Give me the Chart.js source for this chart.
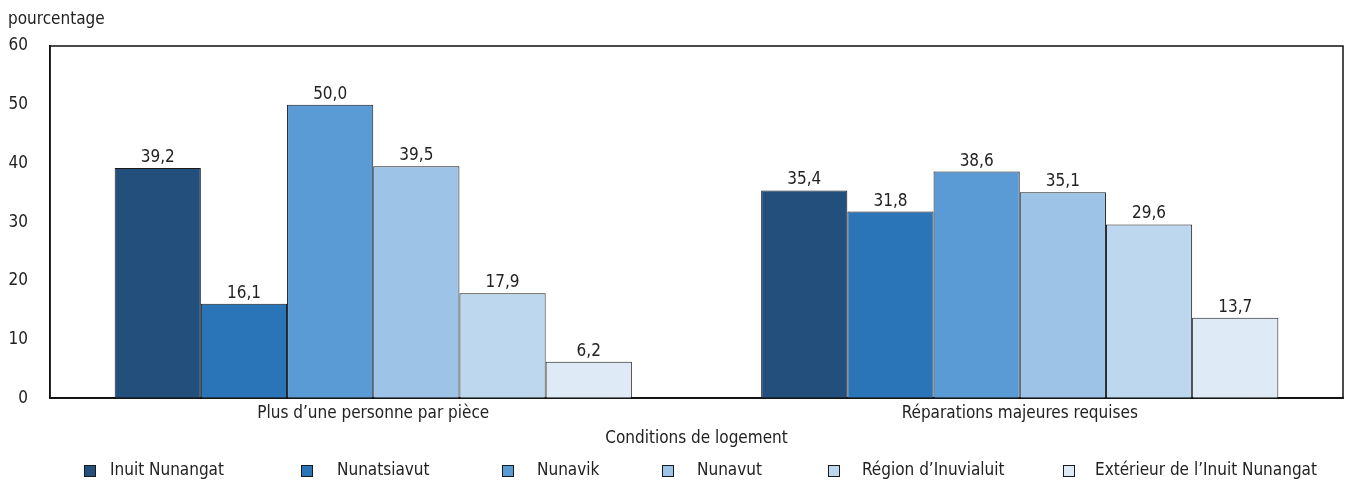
<!DOCTYPE html>
<html lang="fr">
<head>
<meta charset="utf-8">
<title>Conditions de logement</title>
<script src="https://cdn.jsdelivr.net/npm/chart.js@4/dist/chart.umd.min.js"></script>
<style>
  html, body { margin: 0; padding: 0; background: #fff; }
  #wrap { width: 1345px; height: 483px; position: relative; }
</style>
</head>
<body>
<div id="wrap"><canvas id="c" width="1345" height="483"></canvas></div>
<script>
const categories = ['Plus d\u2019une personne par pi\u00e8ce', 'R\u00e9parations majeures requises'];
const regions = ['Inuit Nunangat', 'Nunatsiavut', 'Nunavik', 'Nunavut', 'R\u00e9gion d\u2019Inuvialuit', 'Ext\u00e9rieur de l\u2019Inuit Nunangat'];
const inuitNunangat = [39.2, 35.4];
const nunatsiavut = [16.1, 31.8];
const nunavik = [50.0, 38.6];
const nunavut = [39.5, 35.1];
const inuvialuit = [17.9, 29.6];
const exterieur = [6.2, 13.7];
const yTicks = [0, 10, 20, 30, 40, 50, 60];

const colours = ['#224f7b', '#2a75b8', '#5b9bd5', '#9dc3e6', '#bdd7ee', '#deebf7'];
const seriesValues = [inuitNunangat, nunatsiavut, nunavik, nunavut, inuvialuit, exterieur];

// Legend row layout: left edge of each swatch and of each label
const legendBoxX = [84, 301, 502, 662, 828, 1063];
const legendTextX = [110, 337, 537, 697, 862, 1095];
const legendY = 471;

const FONT = "'DejaVu Sans Condensed', 'Liberation Sans Narrow', sans-serif";
const INK = '#222222';
const SIZE = 17;

const fmt = v => v.toFixed(1).replace('.', ',');

// Box around the plotting area
const frame = {
  id: 'frame',
  afterDraw(chart) {
    const { ctx, chartArea: a } = chart;
    ctx.save();
    ctx.strokeStyle = '#111';
    ctx.lineWidth = 1.5;
    ctx.strokeRect(a.left, a.top, a.right - a.left, a.bottom - a.top);
    ctx.restore();
  }
};

// Value labels above each bar
const valueLabels = {
  id: 'valueLabels',
  afterDatasetsDraw(chart) {
    const { ctx } = chart;
    ctx.save();
    ctx.font = SIZE + 'px ' + FONT;
    ctx.fillStyle = INK;
    ctx.textAlign = 'center';
    ctx.textBaseline = 'alphabetic';
    chart.data.datasets.forEach((ds, i) => {
      chart.getDatasetMeta(i).data.forEach((bar, j) => {
        ctx.fillText(fmt(ds.data[j]), bar.x, bar.y - 6);
      });
    });
    ctx.restore();
  }
};

// Unit caption and one-row legend
const captions = {
  id: 'captions',
  afterDraw(chart) {
    const { ctx } = chart;
    ctx.save();
    ctx.font = SIZE + 'px ' + FONT;
    ctx.fillStyle = INK;
    ctx.textBaseline = 'alphabetic';
    ctx.textAlign = 'left';
    ctx.fillText('pourcentage', 8, 24);
    ctx.textBaseline = 'middle';
    chart.data.datasets.forEach((ds, i) => {
      ctx.fillStyle = ds.backgroundColor;
      ctx.fillRect(legendBoxX[i], legendY - 6, 11, 11);
      ctx.strokeStyle = '#1a1a1a';
      ctx.lineWidth = 1;
      ctx.strokeRect(legendBoxX[i] + 0.5, legendY - 5.5, 11, 11);
      ctx.fillStyle = INK;
      ctx.fillText(ds.label, legendTextX[i], legendY);
    });
    ctx.restore();
  }
};

new Chart(document.getElementById('c'), {
  type: 'bar',
  data: {
    labels: categories,
    datasets: regions.map((name, i) => ({
      label: name,
      data: seriesValues[i],
      backgroundColor: colours[i],
      borderColor: '#1a1a1a',
      borderWidth: 1,
      barPercentage: 1,
      categoryPercentage: 0.8
    }))
  },
  options: {
    responsive: false,
    animation: false,
    layout: { padding: { left: 8, right: 2, top: 46, bottom: 34 } },
    scales: {
      x: {
        grid: { display: false, drawTicks: false },
        border: { display: true, color: '#111', width: 1.5 },
        ticks: { color: INK, font: { family: FONT, size: SIZE }, padding: 5 },
        title: { display: true, text: 'Conditions de logement', color: INK, font: { family: FONT, size: SIZE }, padding: { top: 0, bottom: 0 } }
      },
      y: {
        min: 0,
        max: 60,
        afterBuildTicks(axis) { axis.ticks = yTicks.map(v => ({ value: v })); },
        afterFit(axis) { axis.width = 42; },
        grid: { display: false, drawTicks: false },
        border: { display: true, color: '#111', width: 1.5 },
        ticks: { color: INK, font: { family: FONT, size: SIZE }, padding: 22 }
      }
    },
    plugins: {
      legend: { display: false },
      title: { display: false },
      tooltip: { enabled: false }
    }
  },
  plugins: [frame, valueLabels, captions]
});
</script>
</body>
</html>
